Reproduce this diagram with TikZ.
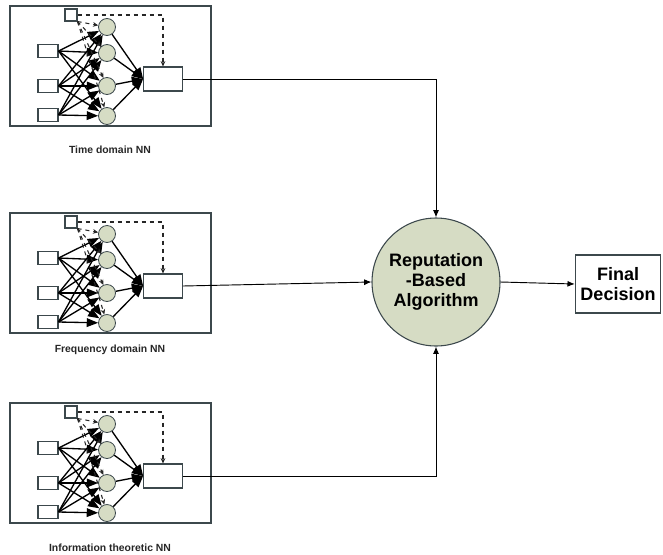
\documentclass[tikz,border=0pt]{standalone}
\usepackage{fontspec}
\setmainfont{Liberation Sans}
\setsansfont{Liberation Sans}
\usetikzlibrary{arrows.meta, positioning, calc}
\definecolor{nnfill}{RGB}{214,220,196}
\definecolor{edgegray}{RGB}{60,72,76}

\begin{document}
\begin{tikzpicture}[
    x=0.75pt, y=-0.75pt,
    frame/.style={draw=edgegray, line width=1pt},
    unit/.style={rectangle, draw=edgegray, fill=white, line width=0.8pt, inner sep=0pt},
    neuron/.style={circle, draw=edgegray, fill=nnfill, minimum size=12.75pt, inner sep=0pt, line width=0.6pt},
    weight/.style={-{Triangle[length=8.5pt,width=6.5pt]}, line width=1pt, black},
    biasline/.style={-{Stealth[length=4pt,width=3.5pt]}, dashed, line width=0.8pt, black!85},
    arrow/.style={-{Latex[length=5.5pt,width=4.5pt]}, line width=0.7pt, black},
    caption/.style={font=\fontsize{7.8}{9}\selectfont\bfseries, text=black!85},
    bigtext/.style={font=\fontsize{13.5}{15}\selectfont\bfseries, align=center}
]
\useasboundingbox (0,0) rectangle (663,554);

% Three neural network panels
\foreach \p/\dy/\cap/\cy in {1/0/Time domain NN/150, 2/207/Frequency domain NN/350, 3/397/Information theoretic NN/548} {
  \draw[frame] (10,6+\dy) rectangle (211,126+\dy);
  \node[unit, minimum width=9pt, minimum height=9pt] (p\p_b) at (71,15+\dy) {};
  \node[unit, minimum width=15pt, minimum height=9.75pt] (p\p_in1) at (48,51+\dy) {};
  \node[unit, minimum width=15pt, minimum height=9.75pt] (p\p_in2) at (48,86+\dy) {};
  \node[unit, minimum width=15pt, minimum height=9.75pt] (p\p_in3) at (48,115+\dy) {};
  \node[neuron] (p\p_h1) at (107,27+\dy) {};
  \node[neuron] (p\p_h2) at (107,53+\dy) {};
  \node[neuron] (p\p_h3) at (107,86+\dy) {};
  \node[neuron] (p\p_h4) at (107,116+\dy) {};
  \node[unit, minimum width=29pt, minimum height=18pt] (p\p_out) at (163,79+\dy) {};
  \node[caption] (p\p_cap) at (110,\cy) {\cap};

  \foreach \i in {1,2,3}
    \foreach \j in {1,...,4}
      \draw[weight] (p\p_in\i.east) -- (p\p_h\j);
  \foreach \j in {1,...,4} {
    \draw[biasline] (p\p_b.south east) -- (p\p_h\j);
    \draw[weight] (p\p_h\j) -- (p\p_out.west);
  }
  \draw[biasline] (p\p_b.east) -| (p\p_out.north);
}

% Fusion and decision
\node[circle, draw=edgegray, fill=nnfill, line width=0.8pt, minimum size=96pt, inner sep=0pt, bigtext] (rep) at (436,282) {Reputation\\-Based\\Algorithm};
\node[rectangle, draw=edgegray, line width=0.8pt, minimum width=64pt, minimum height=43.5pt, bigtext] (final) at (618,284) {Final\\Decision};

\draw[arrow] (p1_out.east) -| (rep.north);
\draw[arrow] (p2_out.east) -- (rep.west);
\draw[arrow] (p3_out.east) -| (rep.south);
\draw[arrow] (rep.east) -- (final.west);

\end{tikzpicture}
\end{document}
